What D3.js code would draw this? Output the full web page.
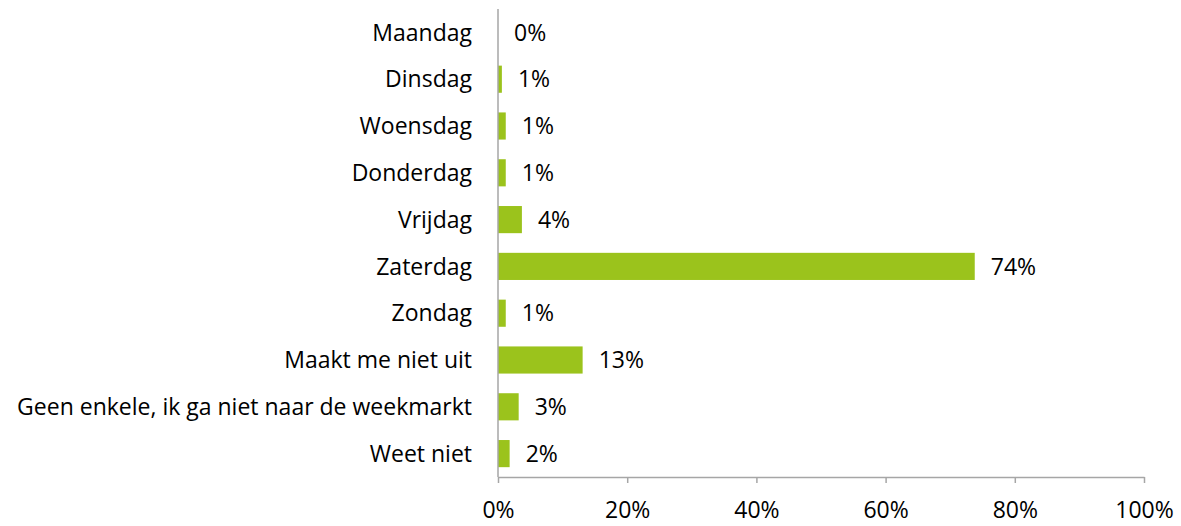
<!DOCTYPE html>
<html>
<head>
<meta charset="utf-8">
<script src="https://cdn.jsdelivr.net/npm/d3@7"></script>
<style>
  body { margin: 0; background: #fff; }
  text { font-family: "Open Sans", sans-serif; fill: #000; }
</style>
</head>
<body>
<svg id="drawing_region"></svg>
<script>
var categories = ["Maandag", "Dinsdag", "Woensdag", "Donderdag", "Vrijdag", "Zaterdag",
                  "Zondag", "Maakt me niet uit", "Geen enkele, ik ga niet naar de weekmarkt", "Weet niet"];
var values = [0, 0.6, 1.2, 1.2, 3.7, 73.8, 1.2, 13.1, 3.2, 1.8];
var valueLabels = ["0%", "1%", "1%", "1%", "4%", "74%", "1%", "13%", "3%", "2%"];
var xTicks = [0, 20, 40, 60, 80, 100];

var config = {
    width: 1181,
    height: 526,
    margin: {top: 9, right: 37, bottom: 49, left: 498},
    fontSize: "23px"
};

var svg = d3.select("#drawing_region")
    .attr("width", config.width)
    .attr("height", config.height);

var inner_width = config.width - config.margin.left - config.margin.right;
var inner_height = config.height - config.margin.top - config.margin.bottom;

var chart = svg.append("g")
    .attr("transform", `translate(${config.margin.left}, ${config.margin.top})`);

var xscale = d3.scaleLinear()
    .domain([0, 100])
    .range([0, inner_width]);

var yscale = d3.scaleBand()
    .domain(categories)
    .range([0, inner_height])
    .paddingInner(0.42)
    .paddingOuter(0.21);

// bars
chart.selectAll("rect")
    .data(values)
    .enter()
    .append("rect")
    .attr("x", 0)
    .attr("y", (d, i) => yscale(categories[i]))
    .attr("width", d => xscale(d))
    .attr("height", yscale.bandwidth())
    .attr("fill", "#9bc31c");

// value labels
chart.selectAll(".val")
    .data(values)
    .enter()
    .append("text")
    .attr("class", "val")
    .attr("x", d => xscale(d) + 16)
    .attr("y", (d, i) => yscale(categories[i]) + yscale.bandwidth() / 2)
    .attr("dy", "0.36em")
    .attr("font-size", config.fontSize)
    .text((d, i) => valueLabels[i]);

// category labels
chart.selectAll(".cat")
    .data(categories)
    .enter()
    .append("text")
    .attr("class", "cat")
    .attr("x", -26)
    .attr("y", d => yscale(d) + yscale.bandwidth() / 2)
    .attr("dy", "0.36em")
    .attr("text-anchor", "end")
    .attr("font-size", config.fontSize)
    .text(d => d);

// y axis line
chart.append("line")
    .attr("x1", 0).attr("x2", 0)
    .attr("y1", 0).attr("y2", inner_height)
    .attr("stroke", "#a6a6a6")
    .attr("stroke-width", 1.5);

// x axis
var xaxis = d3.axisBottom(xscale)
    .tickValues(xTicks)
    .tickFormat(d => d + "%")
    .tickSize(6)
    .tickSizeOuter(0);

var xaxis_group = chart.append("g")
    .attr("transform", `translate(0, ${inner_height})`)
    .call(xaxis);

xaxis_group.select(".domain")
    .attr("stroke", "#a6a6a6")
    .attr("stroke-width", 1.5);
xaxis_group.selectAll(".tick line")
    .attr("stroke", "#a6a6a6")
    .attr("stroke-width", 1.5);
xaxis_group.selectAll(".tick text")
    .attr("font-family", "Open Sans, sans-serif")
    .attr("font-size", config.fontSize)
    .attr("fill", "#000")
    .attr("y", 25);
</script>
</body>
</html>
